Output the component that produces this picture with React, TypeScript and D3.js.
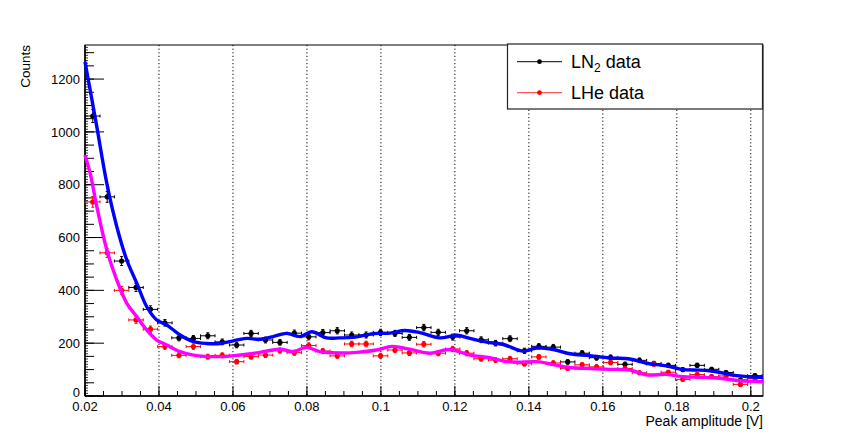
import React, { useEffect, useRef } from 'react';
import * as d3 from 'd3';

// bin centres [V]
const binCenters = [
  0.0221, 0.026, 0.0299, 0.0338, 0.0377, 0.0416, 0.0454, 0.0493, 0.0532, 0.0571, 0.061, 0.0649,
  0.0688, 0.0727, 0.0766, 0.0805, 0.0843, 0.0882, 0.0921, 0.096, 0.0999, 0.1038, 0.1077, 0.1116,
  0.1155, 0.1194, 0.1232, 0.1271, 0.131, 0.1349, 0.1388, 0.1427, 0.1466, 0.1505, 0.1544, 0.1583,
  0.1621, 0.166, 0.1699, 0.1738, 0.1777, 0.1816, 0.1855, 0.1894, 0.1933, 0.1972, 0.2011,
];
const halfBin = 0.00195;

const ln2Counts = [
  1060, 754, 511, 411, 328, 277, 220, 218, 228, 205, 193, 237, 212, 203, 238, 224, 240, 247, 231,
  231, 241, 237, 222, 259, 241, 223, 247, 213, 200, 217, 171, 188, 185, 129, 162, 145, 146, 120,
  135, 123, 116, 100, 116, 101, 89, 61, 77,
];

const lheCounts = [
  735, 542, 400, 288, 253, 187, 154, 187, 149, 154, 130, 149, 155, 172, 164, 191, 170, 152, 197,
  197, 152, 174, 163, 196, 162, 178, 162, 141, 136, 141, 122, 148, 125, 105, 118, 110, 127, 104,
  88, 121, 90, 63, 81, 73, 76, 44, 67,
];

// smoothed curves: [amplitude, counts]
const ln2Smooth: [number, number][] = [
  [0.02, 1265], [0.0214, 1158], [0.0232, 1019], [0.0259, 805], [0.0286, 641], [0.0313, 515],
  [0.034, 427], [0.0367, 338], [0.0394, 288], [0.0421, 269], [0.0457, 231], [0.0493, 206],
  [0.0529, 199], [0.0565, 199], [0.0601, 209], [0.0637, 218], [0.0673, 215], [0.0709, 225],
  [0.0745, 237], [0.0781, 225], [0.0813, 243], [0.0853, 220], [0.0889, 220], [0.0925, 222],
  [0.0979, 236], [0.1024, 238], [0.1065, 248], [0.1105, 240], [0.1159, 220], [0.1205, 230],
  [0.1241, 218], [0.1286, 204], [0.1331, 195], [0.1385, 170], [0.1421, 182], [0.1466, 176],
  [0.1511, 160], [0.1565, 153], [0.1619, 144], [0.1673, 140], [0.1718, 124], [0.1772, 114],
  [0.1817, 100], [0.1862, 98], [0.1907, 92], [0.1952, 79], [0.1997, 73], [0.2033, 71],
];

const lheSmooth: [number, number][] = [
  [0.02, 912], [0.0214, 843], [0.0232, 717], [0.0259, 553], [0.0286, 439], [0.0313, 351],
  [0.034, 300], [0.0367, 250], [0.0394, 212], [0.0421, 193], [0.0457, 168], [0.0493, 155],
  [0.0565, 149], [0.0619, 155], [0.0673, 165], [0.0727, 177], [0.0763, 168], [0.0799, 184],
  [0.0835, 168], [0.0889, 163], [0.0935, 165], [0.0988, 174], [0.103, 188], [0.1078, 177],
  [0.1132, 162], [0.1186, 176], [0.1241, 155], [0.1295, 145], [0.1331, 132], [0.1367, 128],
  [0.1421, 130], [0.1466, 119], [0.1511, 108], [0.1565, 104], [0.1619, 101], [0.1673, 98],
  [0.1718, 80], [0.1772, 82], [0.1817, 73], [0.1862, 71], [0.1916, 67], [0.197, 58], [0.2033, 54],
];

const xMajorTicks = [0.02, 0.04, 0.06, 0.08, 0.1, 0.12, 0.14, 0.16, 0.18, 0.2];
const yMajorTicks = [0, 200, 400, 600, 800, 1000, 1200];

const W = 847;
const H = 441;
const FONT = '"Liberation Sans", Arial, Helvetica, sans-serif';

export default function App() {
  const svgRef = useRef<SVGSVGElement>(null);

  useEffect(() => {
    if (!svgRef.current) return;
    const svg = d3.select(svgRef.current);
    svg.selectAll('*').remove();

    const left = 85;
    const right = 763;
    const top = 45;
    const bottom = 396;

    const x = d3.scaleLinear().domain([0.02, 0.2033]).range([left, right]);
    const y = d3.scaleLinear().domain([0, 1329]).range([bottom, top]);

    svg.append('rect').attr('width', W).attr('height', H).attr('fill', 'white');

    // Dotted grid at major x ticks
    svg
      .append('g')
      .selectAll('line')
      .data(xMajorTicks.slice(1))
      .enter()
      .append('line')
      .attr('x1', (d) => x(d))
      .attr('x2', (d) => x(d))
      .attr('y1', top)
      .attr('y2', bottom)
      .attr('stroke', 'black')
      .attr('stroke-width', 1)
      .attr('stroke-dasharray', '1.2,2.4');

    // Frame
    svg
      .append('rect')
      .attr('x', left)
      .attr('y', top)
      .attr('width', right - left)
      .attr('height', bottom - top)
      .attr('fill', 'none')
      .attr('stroke', 'black')
      .attr('stroke-width', 1);

    // X axis ticks
    const xAxis = svg.append('g');
    const xMinor = d3.range(0.02, 0.2034, 0.005);
    xAxis
      .selectAll('line.minor')
      .data(xMinor)
      .enter()
      .append('line')
      .attr('x1', (d) => x(d))
      .attr('x2', (d) => x(d))
      .attr('y1', bottom)
      .attr('y2', bottom - 5)
      .attr('stroke', 'black');
    xAxis
      .selectAll('line.major')
      .data(xMajorTicks)
      .enter()
      .append('line')
      .attr('x1', (d) => x(d))
      .attr('x2', (d) => x(d))
      .attr('y1', bottom)
      .attr('y2', bottom - 10)
      .attr('stroke', 'black');
    xAxis
      .append('line')
      .attr('x1', left)
      .attr('x2', right)
      .attr('y1', bottom)
      .attr('y2', bottom)
      .attr('stroke', 'black')
      .attr('stroke-width', 1.5);
    xAxis
      .selectAll('text')
      .data(xMajorTicks)
      .enter()
      .append('text')
      .attr('x', (d) => x(d))
      .attr('y', 411)
      .attr('text-anchor', 'middle')
      .style('font-family', FONT)
      .style('font-size', '13px')
      .text((d) => d3.format('~g')(d));

    svg
      .append('text')
      .attr('x', right)
      .attr('y', 426)
      .attr('text-anchor', 'end')
      .style('font-family', FONT)
      .style('font-size', '14px')
      .text('Peak amplitude [V]');

    // Y axis ticks
    const yAxis = svg.append('g');
    yAxis
      .selectAll('line.tert')
      .data(d3.range(0, 1321, 10))
      .enter()
      .append('line')
      .attr('x1', left)
      .attr('x2', left + 3)
      .attr('y1', (d) => y(d))
      .attr('y2', (d) => y(d))
      .attr('stroke', 'black')
      .attr('stroke-width', 0.8);
    yAxis
      .selectAll('line.minor')
      .data(d3.range(0, 1321, 50))
      .enter()
      .append('line')
      .attr('x1', left)
      .attr('x2', left + 9)
      .attr('y1', (d) => y(d))
      .attr('y2', (d) => y(d))
      .attr('stroke', 'black');
    yAxis
      .selectAll('line.major')
      .data(yMajorTicks)
      .enter()
      .append('line')
      .attr('x1', left)
      .attr('x2', left + 19)
      .attr('y1', (d) => y(d))
      .attr('y2', (d) => y(d))
      .attr('stroke', 'black');
    yAxis
      .append('line')
      .attr('x1', left)
      .attr('x2', left)
      .attr('y1', top)
      .attr('y2', bottom)
      .attr('stroke', 'black')
      .attr('stroke-width', 1.5);
    yAxis
      .selectAll('text')
      .data(yMajorTicks)
      .enter()
      .append('text')
      .attr('x', 80)
      .attr('y', (d) => (d === 0 ? y(d) - 4 : y(d)))
      .attr('dy', '0.36em')
      .attr('text-anchor', 'end')
      .style('font-family', FONT)
      .style('font-size', '13px')
      .text((d) => String(d));

    svg
      .append('text')
      .attr('transform', `translate(30, ${top}) rotate(-90)`)
      .attr('text-anchor', 'end')
      .style('font-family', FONT)
      .style('font-size', '13.5px')
      .text('Counts');

    // Data points with error bars
    const drawPoints = (counts: number[], color: string) => {
      const g = svg.append('g');
      const pts = counts.map((c, i) => ({ x: binCenters[i], c, e: Math.sqrt(c) * 0.75 }));
      const grp = g.selectAll('g').data(pts).enter().append('g');
      grp
        .append('line')
        .attr('x1', (d) => x(d.x - halfBin))
        .attr('x2', (d) => x(d.x + halfBin))
        .attr('y1', (d) => y(d.c))
        .attr('y2', (d) => y(d.c))
        .attr('stroke', color);
      grp
        .append('line')
        .attr('x1', (d) => x(d.x))
        .attr('x2', (d) => x(d.x))
        .attr('y1', (d) => y(d.c - d.e))
        .attr('y2', (d) => y(d.c + d.e))
        .attr('stroke', color);
      // end caps
      grp
        .append('path')
        .attr(
          'd',
          (d) =>
            `M${x(d.x - halfBin)},${y(d.c) - 1.5}V${y(d.c) + 1.5}M${x(d.x + halfBin)},${y(d.c) - 1.5}V${y(d.c) + 1.5}` +
            `M${x(d.x) - 1.5},${y(d.c - d.e)}H${x(d.x) + 1.5}M${x(d.x) - 1.5},${y(d.c + d.e)}H${x(d.x) + 1.5}`
        )
        .attr('stroke', color);
      grp
        .append('circle')
        .attr('cx', (d) => x(d.x))
        .attr('cy', (d) => y(d.c))
        .attr('r', 2.6)
        .attr('fill', color);
    };

    drawPoints(ln2Counts, 'black');
    drawPoints(lheCounts, '#ff0000');

    // Smoothed curves
    const line = d3
      .line<[number, number]>()
      .x((d) => x(d[0]))
      .y((d) => y(d[1]))
      .curve(d3.curveCatmullRom);

    svg
      .append('path')
      .datum(lheSmooth)
      .attr('d', line)
      .attr('fill', 'none')
      .attr('stroke', '#ff00ff')
      .attr('stroke-width', 3.4);
    svg
      .append('path')
      .datum(ln2Smooth)
      .attr('d', line)
      .attr('fill', 'none')
      .attr('stroke', '#0000ff')
      .attr('stroke-width', 3.4);

    // Legend
    const lg = svg.append('g');
    lg.append('rect')
      .attr('x', 507.5)
      .attr('y', 44)
      .attr('width', 255)
      .attr('height', 65)
      .attr('fill', 'white')
      .attr('stroke', '#222')
      .attr('stroke-width', 1.2);
    const entries = [
      { label: 'LN', sub: '2', rest: ' data', color: 'black', cy: 61.7 },
      { label: 'LHe data', sub: '', rest: '', color: '#ff3030', cy: 92.7 },
    ];
    entries.forEach((e) => {
      lg.append('line')
        .attr('x1', 517)
        .attr('x2', 562)
        .attr('y1', e.cy)
        .attr('y2', e.cy)
        .attr('stroke', e.color);
      lg.append('circle').attr('cx', 539.5).attr('cy', e.cy).attr('r', 2.4).attr('fill', e.color === 'black' ? 'black' : '#ff0000');
      const t = lg
        .append('text')
        .attr('x', 571)
        .attr('y', e.cy + 6.3)
        .style('font-family', FONT)
        .style('font-size', '18px');
      t.append('tspan').text(e.label);
      if (e.sub) {
        t.append('tspan').attr('dy', 4).style('font-size', '12px').text(e.sub);
        t.append('tspan').attr('dy', -4).text(e.rest);
      }
    });
  }, []);

  return (
    <svg
      ref={svgRef}
      width={W}
      height={H}
      style={{ position: 'fixed', left: 0, top: 0, display: 'block' }}
    />
  );
}
